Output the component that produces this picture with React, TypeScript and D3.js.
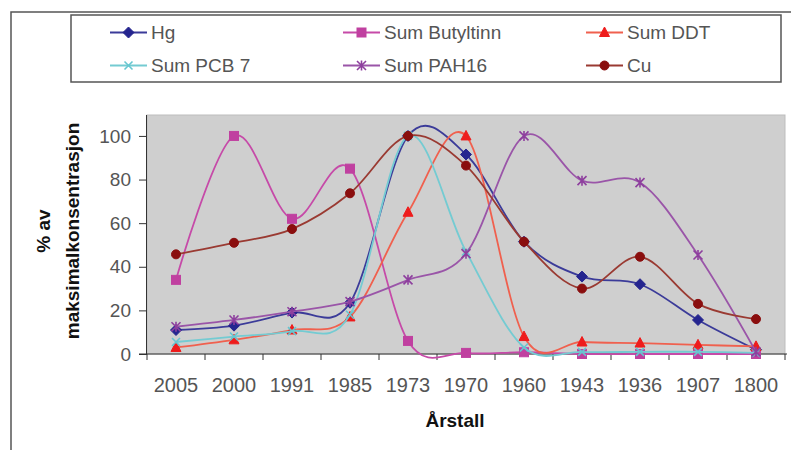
import React, { useEffect, useRef } from 'react';
import * as d3 from 'd3';

// x categories (year labels, as printed)
const years = ['2005', '2000', '1991', '1985', '1973', '1970', '1960', '1943', '1936', '1907', '1800'];
const yTicks = [0, 20, 40, 60, 80, 100];

const hg = [11, 13, 19, 23.5, 100, 91.5, 51.5, 35.5, 32, 15.6, 2];
const butyltinn = [34, 100, 62, 85, 6, 0.5, 0.8, 0, 0, 0, 0];
const ddt = [3, 6.5, 11, 17, 65, 100, 8, 5.5, 5, 4.2, 3.5];
const pcb7 = [5.5, 8, 10.5, 18, 100, 47, 3, 1, 1, 1, 0.5];
const pah16 = [12.5, 15.6, 19.4, 24, 34, 46, 100, 79.5, 78.6, 45.4, 1];
const cu = [45.7, 51, 57.3, 73.7, 100, 86.4, 51.5, 30, 44.6, 23, 16];

const seriesNames = ['Hg', 'Sum Butyltinn', 'Sum DDT', 'Sum PCB 7', 'Sum PAH16', 'Cu'];
const seriesData = [hg, butyltinn, ddt, pcb7, pah16, cu];
const lineColors = ['#3b3b99', '#c64aa8', '#f0604e', '#74cbd2', '#9a55a8', '#9a3a32'];
const markerColors = ['#25258f', '#c040a0', '#ee1c1c', '#66c6d0', '#8e3f9e', '#8a0e0e'];
const markerKinds = ['diamond', 'square', 'triangle', 'x', 'star', 'circle'];

const FONT = 'Arial, "Liberation Sans", sans-serif';

const App = () => {
  const svgRef = useRef<SVGSVGElement>(null);

  useEffect(() => {
    const svg = d3.select(svgRef.current);
    svg.selectAll('*').remove();

    const left = 147, right = 785, top = 115, bottom = 354;
    const x = d3.scaleBand().domain(years).range([left, right]);
    const y = d3.scaleLinear().domain([0, 109.6]).range([bottom, top]);
    const cx = (i: number) => (x(years[i]) as number) + x.bandwidth() / 2;

    // chart area border
    svg.append('rect').attr('x', 11).attr('y', 12).attr('width', 800).attr('height', 460)
      .attr('fill', 'white').attr('stroke', '#555').attr('stroke-width', 1.5);

    // plot area
    svg.append('rect').attr('x', left).attr('y', top).attr('width', right - left).attr('height', bottom - top)
      .attr('fill', '#cfcfcf').attr('stroke', '#bdbdbd');

    // axes
    const yAxis = svg.append('g').attr('transform', `translate(${left},0)`)
      .call(d3.axisLeft(y).tickValues(yTicks).tickSize(8).tickPadding(8));
    yAxis.select('.domain').attr('stroke', '#333').attr('d', `M-0.5,${top}V${bottom}`);
    yAxis.selectAll('line').attr('stroke', '#333');
    yAxis.selectAll('text').attr('font-family', FONT)
      .attr('font-size', 19).attr('fill', '#555');

    const xAxis = svg.append('g').attr('transform', `translate(0,${bottom})`);
    xAxis.append('line').attr('x1', left - 8).attr('x2', right + 2).attr('stroke', '#333').attr('stroke-width', 1.2);
    xAxis.selectAll('line.tick').data(d3.range(years.length + 1)).enter().append('line')
      .attr('class', 'tick')
      .attr('x1', (i) => left + i * x.bandwidth()).attr('x2', (i) => left + i * x.bandwidth())
      .attr('y1', 0).attr('y2', 6).attr('stroke', '#333');
    xAxis.selectAll('text').data(years).enter().append('text')
      .attr('x', (d) => (x(d) as number) + x.bandwidth() / 2).attr('y', 38)
      .attr('text-anchor', 'middle').attr('font-family', FONT)
      .attr('font-size', 20).attr('fill', '#555').text((d) => d);

    // axis titles
    svg.append('text').attr('x', 455).attr('y', 427).attr('text-anchor', 'middle')
      .attr('font-family', FONT).attr('font-weight', 'bold')
      .attr('font-size', 19).attr('fill', '#111').text('Årstall');
    const yt = svg.append('text').attr('transform', 'translate(50,231) rotate(-90)')
      .attr('text-anchor', 'middle').attr('font-family', FONT)
      .attr('font-weight', 'bold').attr('font-size', 19).attr('fill', '#111');
    yt.append('tspan').attr('x', 0).attr('dy', 0).text('% av');
    yt.append('tspan').attr('x', 0).attr('dy', 29).text('maksimalkonsentrasjon');

    const drawMarker = (g: any, kind: string, px: number, py: number, color: string) => {
      if (kind === 'diamond') {
        g.append('path').attr('d', `M${px},${py - 5.5}L${px + 5.5},${py}L${px},${py + 5.5}L${px - 5.5},${py}Z`)
          .attr('fill', color).attr('stroke', color);
      } else if (kind === 'square') {
        g.append('rect').attr('x', px - 4.5).attr('y', py - 4.5).attr('width', 9).attr('height', 9)
          .attr('fill', color).attr('stroke', color);
      } else if (kind === 'triangle') {
        g.append('path').attr('d', `M${px},${py - 5.5}L${px + 5},${py + 4}L${px - 5},${py + 4}Z`)
          .attr('fill', color).attr('stroke', color);
      } else if (kind === 'circle') {
        g.append('circle').attr('cx', px).attr('cy', py).attr('r', 4.5).attr('fill', color).attr('stroke', color);
      } else if (kind === 'x') {
        g.append('path').attr('d', `M${px - 4},${py - 4}L${px + 4},${py + 4}M${px - 4},${py + 4}L${px + 4},${py - 4}`)
          .attr('stroke', color).attr('stroke-width', 1.6);
      } else if (kind === 'star') {
        g.append('path').attr('d', `M${px - 4.5},${py - 4.5}L${px + 4.5},${py + 4.5}M${px - 4.5},${py + 4.5}L${px + 4.5},${py - 4.5}M${px},${py - 5}V${py + 5}`)
          .attr('stroke', color).attr('stroke-width', 1.6);
      }
    };

    const line = d3.line<number>()
      .x((_, i) => cx(i))
      .y((d) => y(d))
      .curve(d3.curveCardinal.tension(0));

    seriesData.forEach((vals, s) => {
      const g = svg.append('g');
      g.append('path').datum(vals).attr('d', line).attr('fill', 'none')
        .attr('stroke', lineColors[s]).attr('stroke-width', 1.8);
      vals.forEach((v, i) => drawMarker(g, markerKinds[s], cx(i), y(v), markerColors[s]));
    });

    // legend
    svg.append('rect').attr('x', 71).attr('y', 15).attr('width', 710).attr('height', 67)
      .attr('fill', 'white').attr('stroke', '#555').attr('stroke-width', 1.5);
    const colX = [110, 343, 586];
    const rowY = [32.5, 65.5];
    seriesNames.forEach((name, s) => {
      const lx = colX[s % 3], ly = rowY[Math.floor(s / 3)];
      const g = svg.append('g');
      g.append('line').attr('x1', lx).attr('x2', lx + 37).attr('y1', ly).attr('y2', ly)
        .attr('stroke', lineColors[s]).attr('stroke-width', 1.8);
      drawMarker(g, markerKinds[s], lx + 18.5, ly, markerColors[s]);
      g.append('text').attr('x', lx + 41).attr('y', ly + 6.5)
        .attr('font-family', FONT).attr('font-size', 19)
        .attr('fill', '#555').text(name);
    });
  }, []);

  return (
    <div>
      <svg ref={svgRef} width={791} height={450} style={{ position: 'absolute', left: 0, top: 0 }}></svg>
    </div>
  );
};

export default App;
